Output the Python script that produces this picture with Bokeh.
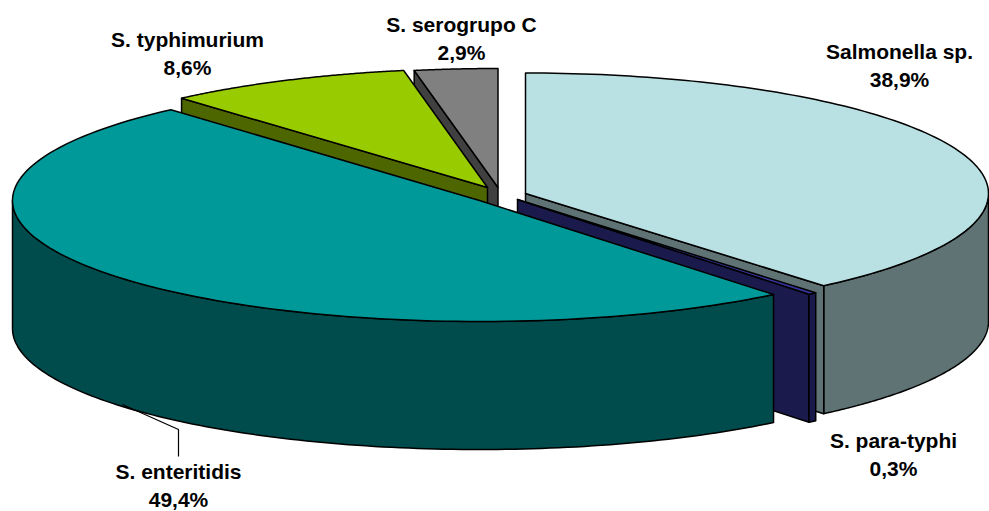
import numpy as np
from bokeh.plotting import figure
from bokeh.models import Range1d
from bokeh.core.properties import value
from bokeh.embed import file_html
from bokeh.resources import INLINE

# data
categories = ["Salmonella sp.", "S. para-typhi", "S. enteritidis", "S. typhimurium", "S. serogrupo C"]
percents = [38.9, 0.3, 49.4, 8.6, 2.9]
pct_labels = ["38,9%", "0,3%", "49,4%", "8,6%", "2,9%"]

# style
top_colors = ["#B9E0E3", "#333399", "#009999", "#99CC00", "#808080"]
wall_colors = ["#5F7374", "#1A1A4D", "#004C4C", "#4D6600", "#404040"]

# layout: slice apexes (exploded), ellipse, depth, in page pixels
apex_x = [525.0, 517.0, 479.0, 487.0, 497.5]
apex_y = [193.0, 199.0, 200.0, 187.0, 187.0]
axis_a = [463.0, 463.0, 467.0, 463.0, 463.0]
axis_b = [120.5, 122.0, 121.0, 119.0, 119.0]
depth = 128.0
label_x = [899, 893, 178, 187, 461]
label_y1 = [50.5, 439.5, 471, 38.5, 23.5]
line_gap = 28
font_px = "21px"
leader_x = [122, 178, 178]
leader_y = [404, 429, 456]

W, H = 989, 511
p = figure(width=W, height=H, output_backend="svg", toolbar_location=None,
           x_range=Range1d(0, W), y_range=Range1d(H, 0),
           min_border=0, outline_line_color=None, x_axis_type="linear")
p.axis.visible = False
p.grid.visible = False
p.background_fill_color = "white"

shares = np.array(percents) / sum(percents) * 2 * np.pi
ends = np.cumsum(shares)
starts = ends - shares


def pt(i, t):
    t = np.asarray(t, dtype=float)
    return apex_x[i] + axis_a[i] * np.sin(t), apex_y[i] - axis_b[i] * np.cos(t)


def top_face(i):
    t = np.linspace(starts[i], ends[i], 120)
    x, y = pt(i, t)
    return np.r_[apex_x[i], x], np.r_[apex_y[i], y]


def outer_wall(i, t0, t1):
    t = np.linspace(t0, t1, 120)
    x, y = pt(i, t)
    return np.r_[x, x[::-1]], np.r_[y, y[::-1] + depth]


def cut_wall(i, t):
    x, y = pt(i, t)
    return ([apex_x[i], float(x), float(x), apex_x[i]],
            [apex_y[i], float(y), float(y) + depth, apex_y[i] + depth])


def draw(xy, color):
    p.patch(xy[0], xy[1], fill_color=color, line_color="black", line_width=1.5, line_join="round")


SAL, PARA, ENT, TYP, SER = range(5)
# painter's order, back to front
draw(cut_wall(SER, starts[SER]), wall_colors[SER])
draw(top_face(SER), top_colors[SER])
draw(cut_wall(TYP, starts[TYP]), wall_colors[TYP])
draw(top_face(TYP), top_colors[TYP])
draw(outer_wall(SAL, np.pi / 2, ends[SAL]), wall_colors[SAL])
draw(cut_wall(SAL, ends[SAL]), wall_colors[SAL])
draw(top_face(SAL), top_colors[SAL])
draw(cut_wall(PARA, ends[PARA]), wall_colors[PARA])
draw(outer_wall(PARA, starts[PARA], ends[PARA]), wall_colors[PARA])
draw(top_face(PARA), top_colors[PARA])
draw(outer_wall(ENT, starts[ENT], 3 * np.pi / 2), wall_colors[ENT])
draw(top_face(ENT), top_colors[ENT])

p.line(leader_x, leader_y, line_color="black", line_width=1.2)

for name, pct, x, y in zip(categories, pct_labels, label_x, label_y1):
    for s, yy in ((name, y), (pct, y + line_gap)):
        p.text([x], [yy], text=[s], text_font=value("Liberation Sans"), text_font_style="bold",
               text_font_size=font_px, text_align="center", text_baseline="middle", text_color="black")

open("out.html", "w").write(file_html(p, INLINE))
